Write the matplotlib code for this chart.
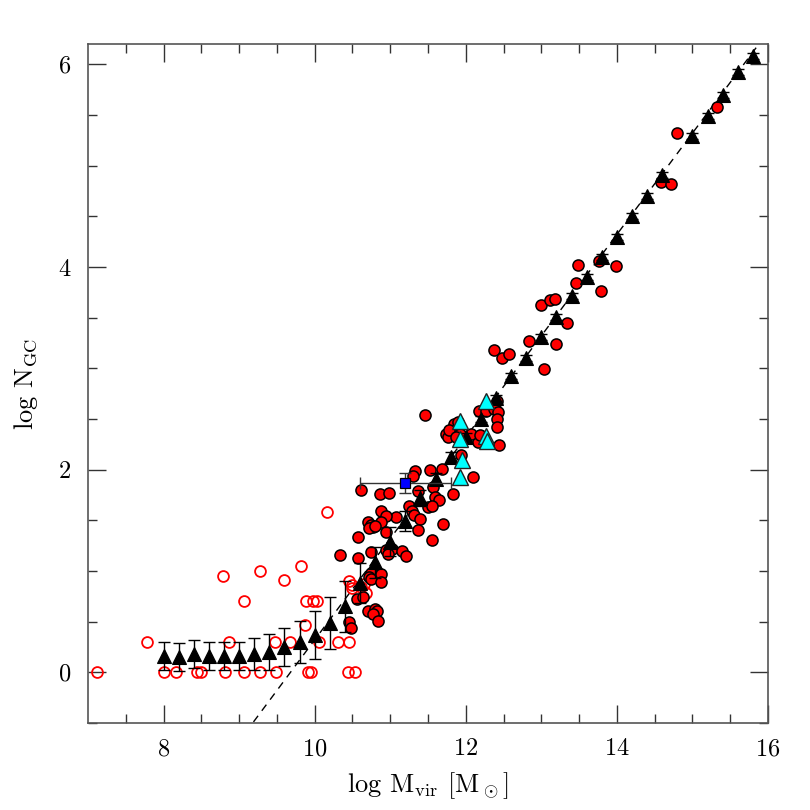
import matplotlib
matplotlib.use("Agg")
import matplotlib.pyplot as plt
import numpy as np

plt.rcParams['font.family'] = 'serif'
plt.rcParams['font.serif'] = ['cmr10', 'DejaVu Serif']
plt.rcParams['mathtext.fontset'] = 'cm'
plt.rcParams['axes.formatter.use_mathtext'] = True

# ---- binned model (black triangles) ----
bin_x = [8.0, 8.2, 8.4, 8.6, 8.8, 9.0, 9.2, 9.4, 9.6, 9.8, 10.0, 10.2, 10.4, 10.6,
         10.8, 11.0, 11.2, 11.4, 11.6, 11.8, 12.0, 12.2, 12.4, 12.6, 12.8, 13.0,
         13.2, 13.4, 13.6, 13.8, 14.0, 14.2, 14.4, 14.6, 15.0, 15.2, 15.4, 15.6, 15.8]
bin_y = [0.16, 0.15, 0.18, 0.16, 0.16, 0.16, 0.18, 0.20, 0.25, 0.30, 0.37, 0.49, 0.65, 0.88,
         1.085, 1.29, 1.49, 1.72, 1.91, 2.12, 2.32, 2.50, 2.71, 2.92, 3.10, 3.31,
         3.51, 3.71, 3.90, 4.10, 4.30, 4.50, 4.70, 4.91, 5.29, 5.49, 5.70, 5.92, 6.08]
bin_err = [0.14, 0.14, 0.14, 0.14, 0.14, 0.14, 0.16, 0.18, 0.19, 0.21, 0.24, 0.255, 0.25, 0.20,
           0.155, 0.14, 0.10, 0.08, 0.06, 0.05, 0.04, 0.03, 0.03, 0.03, 0.03, 0.03,
           0.03, 0.03, 0.03, 0.03, 0.03, 0.03, 0.03, 0.03, 0.03, 0.03, 0.03, 0.03, 0.03]

# ---- observed galaxies (filled red circles) ----
obs_x = [15.32, 14.79, 14.58, 14.72, 13.76, 13.48, 13.99, 13.46, 13.79, 13.00, 13.12, 13.18,
         13.34, 12.84, 13.20, 12.38, 12.48, 12.57, 13.04,
         12.42, 12.18, 12.27, 12.37, 12.43, 12.41, 12.41, 12.44, 12.16, 12.07, 12.19, 11.92,
         11.85, 11.90, 11.74, 11.76, 11.78, 11.87, 12.10, 11.46, 11.94,
         11.68, 11.53, 11.33, 11.30, 11.83, 11.57, 11.59, 11.65, 11.50, 11.55, 11.37, 11.25,
         11.29, 11.31, 11.40, 11.70, 11.56, 11.37, 11.08, 10.62, 10.87, 10.98, 10.88, 10.95,
         10.88, 10.70, 10.75, 10.77, 10.72, 10.80, 10.57, 10.95, 10.33, 10.58, 10.74, 10.95,
         11.02, 10.97, 11.15, 11.21,
         10.74, 10.72, 10.75, 10.88, 10.88, 10.56, 10.64, 10.70, 10.80, 10.83, 10.77, 10.84,
         10.46, 10.48]
obs_y = [5.58, 5.32, 4.84, 4.82, 4.06, 4.02, 4.01, 3.84, 3.76, 3.62, 3.67, 3.68,
         3.45, 3.27, 3.24, 3.18, 3.10, 3.14, 2.99,
         2.68, 2.58, 2.58, 2.60, 2.57, 2.50, 2.42, 2.24, 2.27, 2.35, 2.34, 2.35,
         2.45, 2.47, 2.35, 2.32, 2.39, 2.32, 1.93, 2.54, 2.14,
         2.01, 2.00, 1.99, 1.94, 1.76, 1.83, 1.73, 1.70, 1.63, 1.64, 1.79, 1.64,
         1.59, 1.55, 1.51, 1.46, 1.31, 1.40, 1.53, 1.80, 1.76, 1.77, 1.59, 1.54,
         1.48, 1.48, 1.45, 1.43, 1.42, 1.44, 1.34, 1.38, 1.16, 1.13, 1.19, 1.21,
         1.22, 1.17, 1.20, 1.15,
         0.98, 0.94, 0.92, 0.97, 0.89, 0.72, 0.74, 0.61, 0.62, 0.61, 0.58, 0.51,
         0.50, 0.44]

# ---- dwarfs / upper limits (open red circles) ----
open_x = [7.12, 7.78, 8.00, 8.16, 8.44, 8.49, 8.79, 8.82, 8.87, 9.06, 9.06, 9.28, 9.28,
          9.48, 9.49, 9.59, 9.68, 9.82, 9.87, 9.89, 9.91, 9.95, 9.98, 10.03, 10.06,
          10.16, 10.31, 10.45, 10.44, 10.53, 10.46, 10.50, 10.49, 10.62, 10.66, 10.68]
open_y = [0.00, 0.30, 0.00, 0.00, 0.00, 0.00, 0.95, 0.00, 0.30, 0.70, 0.00, 1.00, 0.00,
          0.30, 0.00, 0.91, 0.30, 1.05, 0.47, 0.70, 0.00, 0.00, 0.70, 0.70, 0.30,
          1.58, 0.30, 0.30, 0.00, 0.00, 0.90, 0.86, 0.83, 0.84, 0.87, 0.78]

# ---- cyan triangles ----
cyan_x = [11.93, 11.93, 11.95, 11.93, 12.27, 12.27, 12.28]
cyan_y = [2.48, 2.30, 2.10, 1.93, 2.68, 2.33, 2.28]

# ---- blue square ----
sq_x = [11.20]
sq_y = [1.87]
sq_xerr = [0.60]
sq_yerr = [0.10]

# relation line: log N = log M - 9.68
line_slope = 1.0
line_icpt = -9.68

fig = plt.figure(figsize=(8.1, 8.1), dpi=100)
ax = fig.add_axes([0.1086, 0.1074, 0.8395, 0.8383])

xl = np.array([7.0, 16.0])
ax.plot(xl, line_slope * xl + line_icpt, color='black', lw=1.0,
        dashes=(5.5, 4.5), zorder=2)

ax.plot(open_x, open_y, 'o', ms=7.8, mfc='none', mec='#ff0000', mew=1.3, zorder=3)
ax.plot(obs_x, obs_y, 'o', ms=8.0, mfc='#ff0000', mec='black', mew=1.1, zorder=4)

ax.errorbar(bin_x, bin_y, yerr=bin_err, fmt='none', ecolor='black', elinewidth=1.0,
            capsize=4.3, capthick=1.0, zorder=5)
ax.plot(bin_x, bin_y, '^', ms=10, mfc='black', mec='black', mew=0.8, zorder=6)

ax.plot(cyan_x, cyan_y, '^', ms=11, mfc='#00ffff', mec='#222222', mew=1.0, zorder=7)

ax.errorbar(sq_x, sq_y, xerr=sq_xerr, yerr=sq_yerr, fmt='none', ecolor='#333333',
            elinewidth=1.0, capsize=4.0, capthick=1.0, zorder=8)
ax.plot(sq_x, sq_y, 's', ms=7.5, mfc='#0000ff', mec='black', mew=0.9, zorder=9)

ax.set_xlim(7.0, 16.0)
ax.set_ylim(-0.5, 6.2)
ax.set_xticks([8, 10, 12, 14, 16])
ax.set_yticks([0, 2, 4, 6])
ax.set_xticks(np.arange(7.5, 16.01, 0.5), minor=True)
ax.set_yticks(np.arange(-0.5, 6.21, 0.5), minor=True)
ax.tick_params(which='both', direction='in', top=True, right=True, color='#333333')
ax.tick_params(which='major', length=13, width=1.0, labelsize=17.5)
ax.tick_params(which='minor', length=6.5, width=1.0)
ax.tick_params(axis='x', which='major', pad=11)
ax.tick_params(axis='y', which='major', pad=12)
for s in ax.spines.values():
    s.set_color('#555555')
    s.set_linewidth(1.2)

ax.set_xlabel(r'log M$_{\rm vir}$ [M$_\odot$]', fontsize=19, labelpad=7)
ax.set_ylabel(r'log N$_{\rm GC}$', fontsize=19, labelpad=13)

fig.savefig('out.png', dpi=100)
